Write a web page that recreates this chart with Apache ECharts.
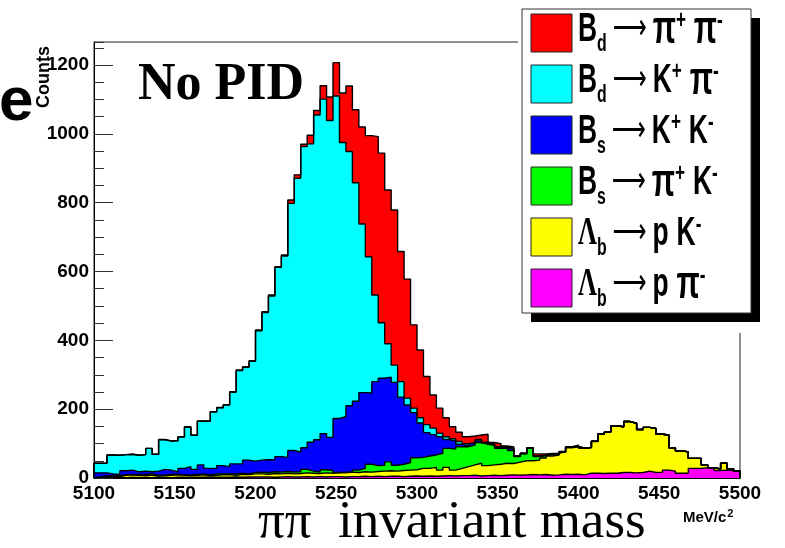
<!DOCTYPE html>
<html><head><meta charset="utf-8">
<script src="https://cdn.jsdelivr.net/npm/echarts@6/dist/echarts.min.js"></script>
<style>html,body{margin:0;padding:0;background:#fff}#c{width:785px;height:548px}</style>
</head><body><div id="c"></div>
<script>
// ---- axis / binning ----
const xMin = 5100, xMax = 5500, binWidth = 4;
const xTickStep = 50;
const yMax = 1267, yMajorStep = 200, yMinorStep = 50;

// ---- components ----
const seriesNames = ['B_d → π+ π-', 'B_d → K+ π-', 'B_s → K+ K-', 'B_s → π+ K-', 'Λ_b → p K-', 'Λ_b → p π-'];
const seriesColors = ['#ff0000', '#00ffff', '#0000ff', '#00ff00', '#ffff00', '#ff00ff'];
const legendRich = [
  '{m|B}{sub|d}{a|⟶}{g|π}{sup|+}{sp|x}{g|π}{sup|-}',
  '{m|B}{sub|d}{a|⟶}{m|K}{sup|+}{sp|x}{g|π}{sup|-}',
  '{m|B}{sub|s}{a|⟶}{m|K}{sup|+}{sp|x}{m|K}{sup|-}',
  '{m|B}{sub|s}{a|⟶}{g|π}{sup|+}{sp|x}{m|K}{sup|-}',
  '{L|Λ}{sub|b}{a|⟶}{m|p}{sp|x}{m|K}{sup|-}',
  '{L|Λ}{sub|b}{a|⟶}{m|p}{sp|x}{g|π}{sup|-}'
];

// ---- THStack cumulative levels per 4 MeV bin (each level = this component plus all drawn below it) ----
const levelBdPiPi = [
  43,43,67,66,68,69,66,68,86,69,
  112,108,109,120,149,125,166,166,193,205,
  213,251,314,323,341,430,483,532,614,648,
  808,881,970,996,1068,1140,1107,1207,1119,1139,
  1070,1020,995,992,944,837,779,658,578,445,
  372,295,241,203,175,149,133,120,122,125,
  127,103,100,93,90,65,72,88,70,70,
  71,72,77,91,95,87,89,107,128,134,
  152,149,164,159,141,147,144,127,125,88,
  79,76,57,57,38,30,26,43,27,20];
const levelBdKPi = [
  43,43,67,66,68,69,66,68,86,69,
  111,107,108,119,147,124,165,165,192,204,
  212,249,312,322,339,428,481,529,612,645,
  798,871,963,971,1055,1101,1039,1110,975,949,
  858,738,643,532,451,390,328,280,232,203,
  175,155,145,130,120,114,106,100,103,112,
  104,99,91,90,85,64,72,88,64,67,
  70,71,77,90,93,87,89,107,128,134,
  152,149,164,159,141,147,144,127,125,88,
  79,76,57,57,38,30,26,43,27,20];
const levelBsKK = [
  15,15,12,10,21,23,18,20,18,20,
  25,23,18,28,33,25,38,28,28,36,
  33,41,41,52,49,52,53,53,62,60,
  80,75,88,104,111,129,118,173,178,210,
  223,248,247,280,290,293,278,235,212,190,
  160,132,126,120,112,107,98,94,100,108,
  101,98,89,88,83,63,71,88,63,66,
  69,70,76,89,92,87,89,107,128,134,
  152,149,164,159,141,147,144,127,125,88,
  79,76,57,57,38,30,26,43,27,20];
const levelBsPiK = [
  4,6,6,7,10,10,10,10,12,8,
  9,11,11,9,9,10,12,9,12,12,
  12,12,14,12,16,17,16,18,17,19,
  17,18,25,20,17,24,22,16,17,17,
  23,28,40,36,37,47,37,40,45,59,
  60,64,67,72,86,84,91,91,96,103,
  98,95,86,86,80,62,70,86,62,65,
  69,69,76,89,92,87,89,107,128,134,
  152,149,164,159,141,147,144,127,125,88,
  79,76,57,57,38,30,26,43,27,20];
const levelLbPK = [
  3,4,5,4,8,9,7,8,8,6,
  7,8,9,8,6,8,9,7,8,9,
  10,8,11,10,12,12,11,13,12,14,
  12,13,15,14,13,15,14,16,15,17,
  16,18,17,19,20,21,20,22,23,24,
  28,28,31,23,31,23,28,33,38,43,
  36,38,40,43,42,46,50,50,52,58,
  64,67,75,88,91,86,88,106,127,133,
  151,149,164,159,141,147,144,127,125,88,
  79,76,57,57,38,30,26,43,27,20];
const levelLbPPi = [
  1,1,2,1,1,2,1,2,1,2,
  2,1,2,2,1,2,2,3,2,2,
  2,3,2,3,3,3,3,2,3,4,
  3,3,4,3,4,3,4,4,3,4,
  4,5,4,5,4,5,5,4,5,6,
  5,6,5,6,7,6,7,7,8,6,
  7,8,7,8,9,8,9,10,9,10,
  8,9,11,10,11,9,14,14,13,14,
  14,16,16,15,16,20,16,17,23,20,
  14,14,28,28,30,28,22,23,22,19];

const levels = [levelBdPiPi, levelBdKPi, levelBsKK, levelBsPiK, levelLbPK, levelLbPPi];

function histPoints(lv) {
  const pts = [[xMin, 0]];
  lv.forEach((v, i) => pts.push([xMin + i * binWidth, v]));
  pts.push([xMax, lv[lv.length - 1]]);
  pts.push([xMax, 0]);
  return pts;
}

const series = levels.map((lv, k) => ({
  name: seriesNames[k],
  type: 'line',
  step: 'end',
  data: histPoints(lv),
  symbol: 'none',
  showSymbol: false,
  lineStyle: { color: '#000', width: 1.4 },
  areaStyle: { color: seriesColors[k], opacity: 1 },
  silent: true,
  z: 2
}));

// ---- legend drawn as graphics (ROOT TLegend look) ----
const legendLeft = 522, legendTop = 9, legendW = 229, legendH = 304, shadowOff = 9;
const entryCenters = [33, 84, 135, 186, 237, 288];
const graphics = [
  { type: 'rect', z: 50, shape: { x: 518, y: 0, width: 267, height: 333 }, style: { fill: '#fff' } },
  { type: 'rect', z: 51, shape: { x: legendLeft + shadowOff, y: legendTop + shadowOff, width: legendW, height: legendH }, style: { fill: '#000' } },
  { type: 'rect', z: 52, shape: { x: legendLeft, y: legendTop, width: legendW, height: legendH }, style: { fill: '#fff', stroke: '#333', lineWidth: 1 } }
];
const richStyles = {
  m: { fontSize: 40, fontFamily: 'Liberation Sans', fontWeight: 'bold', fill: '#000' },
  g: { fontSize: 46, fontFamily: 'Liberation Sans', fontWeight: 'bold', fill: '#000' },
  a: { fontSize: 36, fontFamily: 'DejaVu Sans', fill: '#000', padding: [0, 9, 0, 9] },
  sp: { fontSize: 40, fontFamily: 'Liberation Sans', fill: 'rgba(0,0,0,0)', width: 12 },
  L: { fontSize: 40, fontFamily: 'Liberation Serif', fontWeight: 'bold', fill: '#000' },
  sub: { fontSize: 24, fontFamily: 'Liberation Sans', fontWeight: 'bold', fill: '#000', padding: [28, 0, 0, 0] },
  sup: { fontSize: 26, fontFamily: 'Liberation Sans', fontWeight: 'bold', fill: '#000', padding: [0, 0, 18, 0] }
};
entryCenters.forEach((c, k) => {
  graphics.push({ type: 'rect', z: 53, shape: { x: 531, y: c - 19, width: 41, height: 38 },
    style: { fill: seriesColors[k], stroke: '#222', lineWidth: 1 } });
  graphics.push({ type: 'group', z: 53, x: 578, y: c - 3, scaleX: 0.66, children: [
    { type: 'text', z: 53, style: { text: legendRich[k], x: 0, y: 0, align: 'left', verticalAlign: 'middle',
      fontSize: 40, fontFamily: 'Liberation Sans', fill: '#000', rich: richStyles } }
  ] });
});
graphics.push(
  { type: 'text', z: 60, x: 138, y: 86, style: { text: 'No PID', font: 'bold 52px "Liberation Serif"', fill: '#000', verticalAlign: 'middle' } },
  { type: 'text', z: 60, x: -1, y: 103, style: { text: 'e', font: 'bold 62px "Liberation Sans"', fill: '#000', verticalAlign: 'middle' } },
  { type: 'text', z: 60, x: 44, y: 77, rotation: Math.PI / 2, style: { text: 'Counts', font: 'bold 18px "Liberation Sans"', fill: '#000', align: 'center', verticalAlign: 'middle' } },
  { type: 'text', z: 60, x: 258, y: 523, style: { text: 'ππ  invariant mass', font: '53px "Liberation Serif"', fill: '#000', verticalAlign: 'middle' } },
  { type: 'text', z: 60, x: 683, y: 518, style: { text: '{t|MeV/c}{s|2}', fill: '#000', verticalAlign: 'middle',
      rich: { t: { fontSize: 15, fontWeight: 'bold', fontFamily: 'Liberation Sans', fill: '#000' },
              s: { fontSize: 11, fontWeight: 'bold', fontFamily: 'Liberation Sans', fill: '#000', padding: [0, 0, 9, 1] } } } }
);

const chart = echarts.init(document.getElementById('c'));
chart.setOption({
  animation: false,
  backgroundColor: '#fff',
  grid: { left: 94, right: 45, top: 42, bottom: 70, show: true, borderColor: '#222', borderWidth: 1, backgroundColor: 'transparent' },
  xAxis: {
    type: 'value', min: xMin, max: xMax, interval: xTickStep,
    axisLine: { show: true, onZero: false, lineStyle: { color: '#000', width: 1 } },
    axisTick: { show: false },
    splitLine: { show: false },
    axisLabel: { fontSize: 19, fontWeight: 'bold', fontFamily: 'Liberation Sans', color: '#000', margin: 6,
      formatter: v => String(v) }
  },
  yAxis: [
    {
      type: 'value', min: 0, max: yMax, interval: yMajorStep, position: 'left',
      axisLine: { show: true, lineStyle: { color: '#000', width: 1 } },
      axisTick: { show: true, inside: true, length: 19, lineStyle: { color: '#333', width: 1 } },
      splitLine: { show: false },
      axisLabel: { fontSize: 19, fontWeight: 'bold', fontFamily: 'Liberation Sans', color: '#000', margin: 5,
        showMaxLabel: false, formatter: v => (v % yMajorStep === 0 ? String(v) : '') }
    },
    {
      type: 'value', min: 0, max: yMax, interval: yMinorStep, position: 'left', offset: 0,
      axisLine: { show: false },
      axisTick: { show: true, inside: true, length: 10, lineStyle: { color: '#333', width: 1 } },
      splitLine: { show: false },
      axisLabel: { show: false }
    }
  ],
  series: series,
  graphic: graphics
});
</script></body></html>
